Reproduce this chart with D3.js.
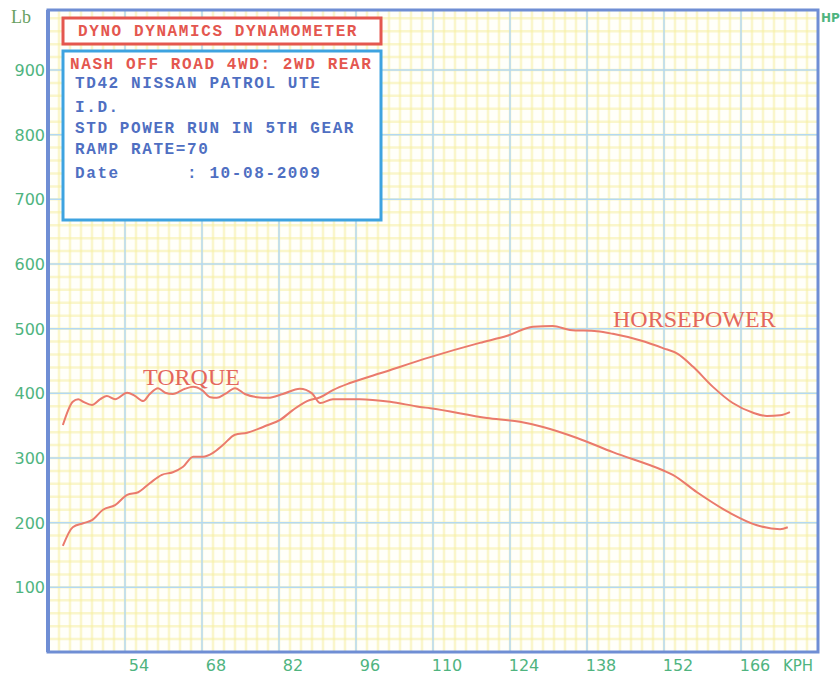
<!DOCTYPE html>
<html>
<head>
<meta charset="utf-8">
<script src="https://cdn.jsdelivr.net/npm/d3@7.9.0/dist/d3.min.js"></script>
<style>
  html, body { margin: 0; padding: 0; background: #fff; }
  svg { display: block; }
</style>
</head>
<body>
<div id="chart"></div>
<script>
// axis ticks
const kphTicks = [54, 68, 82, 96, 110, 124, 138, 152, 166];
const lbTicks = [100, 200, 300, 400, 500, 600, 700, 800, 900];

// torque (Lb)
const torqueKph = [42.7, 44.5, 45.5, 46.4, 48.0, 49.5, 50.7, 52.2, 54.4, 55.8, 57.3, 58.5, 60.0, 61.3, 62.7,
  64.9, 66.4, 68.0, 69.5, 70.7, 72.2, 74.0, 75.8, 78.0, 80.0, 82.7, 85.8, 88.0, 89.5, 91.8, 96.7,
  102.2, 107.6, 109.5, 119.8, 125.8, 130.0, 136.2, 142.7, 151.8, 153.6, 158.0, 164.0, 168.9, 173.1, 174.5];
const torqueLb = [351, 387, 391, 387, 382, 391, 396, 391, 401, 396, 388, 399, 408, 401, 399,
  407, 410, 405, 394, 393, 399, 408, 399, 394, 393, 399, 407, 400, 385, 391, 391,
  387, 379, 377, 362, 356, 348, 331, 309, 281, 274, 247, 215, 196, 190, 193];

// horsepower trace
const powerKph = [42.7, 44.5, 46.4, 48.0, 50.0, 52.2, 54.4, 56.4, 58.5, 60.7, 62.7, 64.5, 66.4, 68.2, 70.0,
  71.8, 74.0, 76.2, 79.1, 80.0, 82.2, 84.5, 87.1, 89.5, 91.8, 94.9, 100.4, 109.5, 118.5, 123.5,
  128.2, 131.8, 134.9, 139.8, 142.7, 147.6, 151.8, 154.5, 157.3, 160.9, 164.5, 168.2, 170.7, 173.1, 174.9];
const powerHp = [164, 193, 199, 204, 220, 227, 243, 247, 261, 274, 278, 286, 302, 302, 308,
  320, 336, 339, 348, 351, 359, 374, 388, 394, 405, 416, 431, 456, 478, 489,
  503, 504, 498, 496, 492, 482, 470, 461, 441, 410, 385, 370, 365, 366, 371];

const headerText = 'DYNO DYNAMICS DYNAMOMETER';
const infoLines = [
  { text: 'NASH OFF ROAD 4WD: 2WD REAR', color: '#e4574f' },
  { text: 'TD42 NISSAN PATROL UTE', color: '#4f6fc2' },
  { text: 'I.D.', color: '#4f6fc2' },
  { text: 'STD POWER RUN IN 5TH GEAR', color: '#4f6fc2' },
  { text: 'RAMP RATE=70', color: '#4f6fc2' },
  { text: 'Date      : 10-08-2009', color: '#4f6fc2' },
];

const width = 840;
const height = 675;
const frame = { left: 48, right: 818, top: 10, bottom: 652 };

const svg = d3.select('#chart')
  .append('svg')
  .attr('width', width)
  .attr('height', height);

const x = d3.scaleLinear().domain([40, 180]).range([frame.left, frame.right]);
const y = d3.scaleLinear().domain([0, 900]).range([frame.bottom, 70]);
const yTop = y.invert(frame.top);

// paper background + fine yellow grid
svg.append('rect')
  .attr('x', frame.left).attr('y', frame.top)
  .attr('width', frame.right - frame.left).attr('height', frame.bottom - frame.top)
  .attr('fill', '#fffffa');

const fine = svg.append('g').attr('class', 'fine-grid');
fine.selectAll('line.fx')
  .data(d3.range(42, 180, 2))
  .join('line')
  .attr('x1', d => x(d)).attr('x2', d => x(d))
  .attr('y1', frame.top).attr('y2', frame.bottom)
  .attr('stroke', '#f7ef9e')
  .attr('stroke-width', 2.5)
  .attr('opacity', 0.5);
fine.selectAll('line.fy')
  .data(d3.range(20, yTop, 20))
  .join('line')
  .attr('x1', frame.left).attr('x2', frame.right)
  .attr('y1', d => y(d)).attr('y2', d => y(d))
  .attr('stroke', '#f7ef9e')
  .attr('stroke-width', 2.5)
  .attr('opacity', 0.5);

// major blue grid
const grid = svg.append('g').attr('class', 'gridlines');
grid.selectAll('line.gx')
  .data(kphTicks)
  .join('line')
  .attr('x1', d => x(d)).attr('x2', d => x(d))
  .attr('y1', frame.top).attr('y2', frame.bottom)
  .attr('stroke', '#b3d9f3').attr('stroke-width', 1.5);
grid.selectAll('line.gy')
  .data(lbTicks)
  .join('line')
  .attr('x1', frame.left).attr('x2', frame.right)
  .attr('y1', d => y(d)).attr('y2', d => y(d))
  .attr('stroke', '#b3d9f3').attr('stroke-width', 1.5);

// curves
const line = d3.line()
  .x(d => x(d[0]))
  .y(d => y(d[1]))
  .curve(d3.curveMonotoneX);

svg.append('path')
  .datum(d3.zip(torqueKph, torqueLb))
  .attr('d', line)
  .attr('fill', 'none')
  .attr('stroke', '#ea7a6c')
  .attr('stroke-width', 2);

svg.append('path')
  .datum(d3.zip(powerKph, powerHp))
  .attr('d', line)
  .attr('fill', 'none')
  .attr('stroke', '#ea7a6c')
  .attr('stroke-width', 2);

// curve names
svg.append('text')
  .attr('x', 143).attr('y', 385)
  .attr('font-family', '"Liberation Serif", "DejaVu Serif", serif')
  .attr('font-size', 24)
  .attr('fill', '#e4675c')
  .text('TORQUE');
svg.append('text')
  .attr('x', 613).attr('y', 327)
  .attr('font-family', '"Liberation Serif", "DejaVu Serif", serif')
  .attr('font-size', 24)
  .attr('fill', '#e4675c')
  .text('HORSEPOWER');

// frame
svg.append('rect')
  .attr('x', frame.left).attr('y', frame.top)
  .attr('width', frame.right - frame.left).attr('height', frame.bottom - frame.top)
  .attr('fill', 'none')
  .attr('stroke', '#6f8ed4')
  .attr('stroke-width', 3);
svg.append('line')
  .attr('x1', frame.left).attr('x2', frame.left)
  .attr('y1', frame.top).attr('y2', frame.bottom)
  .attr('stroke', '#6f8ed4').attr('stroke-width', 4);

// axis labels
const labelFont = '"DejaVu Sans", sans-serif';
svg.append('g')
  .selectAll('text')
  .data(lbTicks)
  .join('text')
  .attr('x', 45)
  .attr('y', d => y(d) + 6)
  .attr('text-anchor', 'end')
  .attr('font-family', labelFont)
  .attr('font-size', 16)
  .attr('fill', '#4fb47f')
  .text(d => d);

svg.append('g')
  .selectAll('text')
  .data(kphTicks)
  .join('text')
  .attr('x', d => x(d) + 14)
  .attr('y', 671)
  .attr('text-anchor', 'middle')
  .attr('font-family', labelFont)
  .attr('font-size', 16)
  .attr('fill', '#4fb47f')
  .text(d => d);

svg.append('text')
  .attr('x', 798).attr('y', 671)
  .attr('text-anchor', 'middle')
  .attr('font-family', labelFont)
  .attr('font-size', 15)
  .attr('fill', '#4fb47f')
  .text('KPH');

svg.append('text')
  .attr('x', 11).attr('y', 23)
  .attr('font-family', '"Liberation Serif", serif')
  .attr('font-size', 18)
  .attr('fill', '#68a060')
  .text('Lb');

svg.append('text')
  .attr('x', 821).attr('y', 22)
  .attr('font-family', labelFont)
  .attr('font-size', 12)
  .attr('font-weight', 'bold')
  .attr('fill', '#4fb47f')
  .text('HP');

// header box
const monoFont = '"Liberation Mono", "DejaVu Sans Mono", monospace';
svg.append('rect')
  .attr('x', 63).attr('y', 18).attr('width', 318).attr('height', 26)
  .attr('fill', '#fff')
  .attr('stroke', '#e4574f').attr('stroke-width', 3);
svg.append('text')
  .attr('x', 78).attr('y', 36)
  .attr('font-family', monoFont)
  .attr('font-size', 16)
  .attr('font-weight', 'bold')
  .attr('letter-spacing', 1.6)
  .attr('fill', '#e4574f')
  .text(headerText);

// info box
svg.append('rect')
  .attr('x', 63).attr('y', 51).attr('width', 318).attr('height', 169)
  .attr('fill', '#fff')
  .attr('stroke', '#3ea3e0').attr('stroke-width', 3);

const infoY = [69, 88, 112, 133, 154, 178];
svg.append('g')
  .selectAll('text')
  .data(infoLines)
  .join('text')
  .attr('x', (d, i) => i === 0 ? 70 : 75)
  .attr('y', (d, i) => infoY[i])
  .attr('font-family', monoFont)
  .attr('font-size', 16)
  .attr('font-weight', 'bold')
  .attr('letter-spacing', 1.6)
  .attr('xml:space', 'preserve')
  .style('white-space', 'pre')
  .attr('fill', d => d.color)
  .text(d => d.text);
</script>
</body>
</html>
